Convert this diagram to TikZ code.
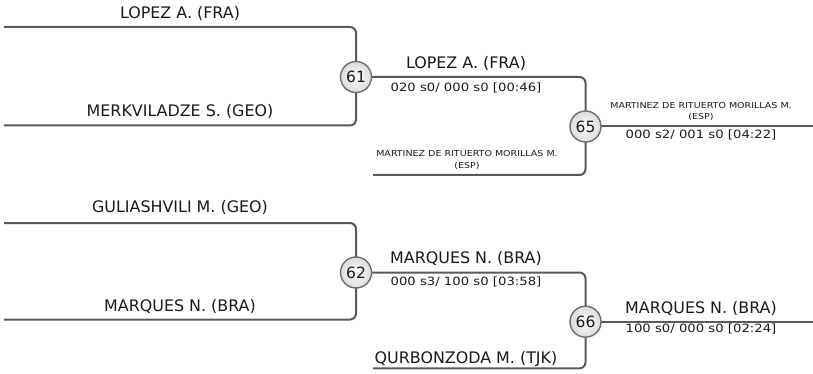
\documentclass[tikz,border=0pt]{standalone}
\usepackage{fontspec}
\newfontfamily\nf{DejaVu Sans}
\newfontfamily\stf[FakeStretch=1.16]{DejaVu Sans}
\definecolor{lineg}{HTML}{5A5A5A}
\definecolor{ringg}{HTML}{6E6E6E}
\definecolor{txt}{HTML}{1A1A1A}
\begin{document}
\begin{tikzpicture}[x=1pt,y=-1pt,
  br/.style={draw=lineg,line width=2pt,rounded corners=6pt},
  bout/.style={circle,draw=ringg,line width=1.4pt,minimum size=31pt,inner sep=0pt,
     inner color=white,outer color=gray!28,text=txt,font=\nf\fontsize{15.5}{16}\selectfont},
  pname/.style={anchor=base,inner sep=0pt,text=txt,font=\nf\fontsize{15.9}{18}\selectfont},
  pscore/.style={anchor=base,inner sep=0pt,text=txt,font=\stf\fontsize{11.4}{13}\selectfont},
  psmall/.style={anchor=north,inner sep=0pt,align=center,text=txt,font=\stf\fontsize{8.2}{11.1}\selectfont}]
\useasboundingbox (0,0) rectangle (813,374);
% coordinates
\coordinate (s1) at (4,27);
\coordinate (s2) at (4,125.5);
\coordinate (k61) at (356,77);
\coordinate (k65) at (585.5,126.5);
\coordinate (s3) at (373,175);
\coordinate (e65) at (813,126.5);
\coordinate (s4) at (4,223);
\coordinate (s5) at (4,319.5);
\coordinate (k62) at (356,272.5);
\coordinate (k66) at (585.5,321.7);
\coordinate (s6) at (373,368.3);
\coordinate (e66) at (813,321.7);
% brackets
\draw[br] (s1) -| (k61) |- (s2);
\draw[br] (k61) -| (k65) |- (s3);
\draw[br] (k65) -- (e65);
\draw[br] (s4) -| (k62) |- (s5);
\draw[br] (k62) -| (k66) |- (s6);
\draw[br] (k66) -- (e66);
% bouts
\node[bout] (b61) at (k61) {61};
\node[bout] (b65) at (k65) {65};
\node[bout] (b62) at (k62) {62};
\node[bout] (b66) at (k66) {66};
% texts
\node[pname] (t1) at (180,18.5) {LOPEZ A. (FRA)};
\node[pname] (t2) at (180,116.5) {MERKVILADZE S. (GEO)};
\node[pname] (t3) at (466,68.5) {LOPEZ A. (FRA)};
\node[pscore] (r61) at (466,92) {020 s0/ 000 s0 [00:46]};
\node[psmall] (t4) at (701,102.3) {MARTINEZ DE RITUERTO MORILLAS M.\\(ESP)};
\node[pscore] (r65) at (701,138.3) {000 s2/ 001 s0 [04:22]};
\node[psmall] (t5) at (467,150.7) {MARTINEZ DE RITUERTO MORILLAS M.\\(ESP)};
\node[pname] (t6) at (180,212.7) {GULIASHVILI M. (GEO)};
\node[pname] (t7) at (180,311.7) {MARQUES N. (BRA)};
\node[pname] (t8) at (466,263.3) {MARQUES N. (BRA)};
\node[pscore] (r62) at (466,285) {000 s3/ 100 s0 [03:58]};
\node[pname] (t9) at (701,313.3) {MARQUES N. (BRA)};
\node[pscore] (r66) at (701,332.3) {100 s0/ 000 s0 [02:24]};
\node[pname] (t10) at (466,363) {QURBONZODA M. (TJK)};
\end{tikzpicture}
\end{document}
